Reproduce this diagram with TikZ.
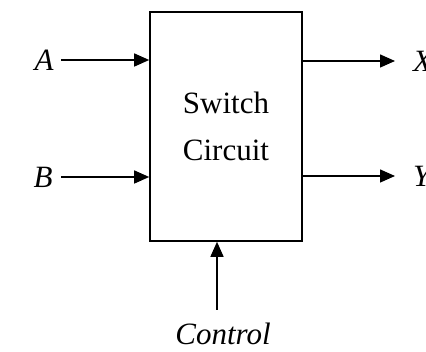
\documentclass[tikz,border=0pt]{standalone}
\usepackage{fontspec}
\setmainfont{Liberation Serif}
\usetikzlibrary{positioning,arrows.meta,calc}

\tikzset{
  bloco/.style={draw, line width=1.6pt, minimum width=152pt, minimum height=229pt, inner sep=0pt, align=center},
  sinal/.style={-{Triangle[length=15pt,width=13pt]}, line width=1.4pt},
  rotulo/.style={inner sep=0pt, font=\itshape}
}

\begin{document}
\begin{tikzpicture}[x=1pt,y=1pt]
        \fontsize{31}{47}\selectfont
        \useasboundingbox (0,0) rectangle (426,352);

        % Bloco
        \node[bloco] (circ) at (226,225.5) {Switch\\Circuit};

        % Entradas
        \node[rotulo] (a) at (44,292) {A};
        \node[rotulo] (b) at (43,175) {B};
        \coordinate (a0) at (61,292);
        \coordinate (b0) at (61,175);
        \draw[sinal] (a0) -- (a0 -| circ.west);
        \draw[sinal] (b0) -- (b0 -| circ.west);

        % Saidas
        \node[rotulo, anchor=west] (x) at (413,291) {X};
        \node[rotulo, anchor=west] (y) at (413,176) {Y};
        \draw[sinal] (x.west -| circ.east) -- ($(x.west)+(-18,0)$);
        \draw[sinal] (y.west -| circ.east) -- ($(y.west)+(-18,0)$);

        % Controle
        \node[rotulo] (ctrl) at (223,18) {Control};
        \coordinate (c0) at (217,42);
        \draw[sinal] (c0) -- (c0 |- circ.south);

\end{tikzpicture}
\end{document}
